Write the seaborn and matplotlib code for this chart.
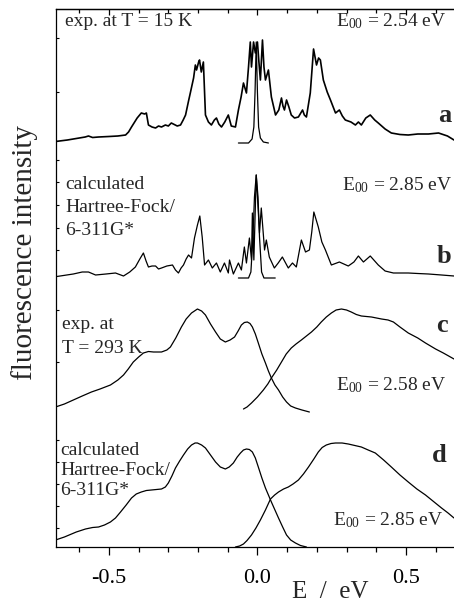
import numpy as np
import pandas as pd
import matplotlib
matplotlib.use("Agg")
import matplotlib.pyplot as plt
import seaborn as sns

# ---------------- data (E in eV, intensity in arbitrary units) ----------------
a_E = [-0.680, -0.640, -0.600, -0.580, -0.569, -0.555, -0.535, -0.500, -0.470, -0.444,
       -0.434, -0.424, -0.405, -0.391, -0.380, -0.374, -0.367, -0.355, -0.343, -0.333,
       -0.323, -0.310, -0.300, -0.290, -0.270, -0.259, -0.250, -0.242, -0.232, -0.226,
       -0.215, -0.209, -0.205, -0.198, -0.195, -0.189, -0.182, -0.175, -0.165, -0.155,
       -0.145, -0.138, -0.130, -0.121, -0.110, -0.098, -0.088, -0.074, -0.064, -0.055,
       -0.047, -0.037, -0.030, -0.024, -0.020, -0.013, -0.007, 0.000, 0.005, 0.010,
       0.017, 0.022, 0.027, 0.037, 0.047, 0.061, 0.072, 0.081, 0.086, 0.091,
       0.098, 0.106, 0.114, 0.125, 0.138, 0.152, 0.158, 0.165, 0.178, 0.189,
       0.194, 0.199, 0.206, 0.212, 0.222, 0.235, 0.246, 0.263, 0.276, 0.286,
       0.296, 0.315, 0.330, 0.340, 0.350, 0.365, 0.380, 0.395, 0.407, 0.430,
       0.451, 0.480, 0.508, 0.540, 0.576, 0.610, 0.640, 0.662]
a_I = [0.5, 2, 4, 5, 6, 4.5, 5, 5.5, 6, 7,
       10, 15, 24, 29, 28, 29, 17, 15, 14, 16,
       15, 17, 16, 19, 16, 17, 22, 27, 41, 49,
       64, 77, 72, 80, 82, 70, 80, 27, 20, 17,
       22, 24, 18, 15, 20, 27, 16, 15, 32, 45,
       59, 49, 75, 100, 75, 100, 89, 100, 80, 62,
       102, 75, 62, 72, 45, 27, 32, 44, 36, 32,
       42, 35, 27, 24, 25, 32, 27, 25, 49, 93,
       85, 77, 84, 82, 62, 50, 42, 29, 32, 26,
       22, 20, 17, 20, 17, 24, 27, 22, 19, 13,
       9, 7.5, 7, 8, 8, 9, 6, 2]
a_line_E = [-0.064, -0.030, -0.018, -0.012, -0.008, -0.004, 0.000, 0.004, 0.010, 0.020, 0.037]
a_line_I = [-1, -1, 3, 15, 50, 100, 50, 15, 4, 0, -1]

b_E = [-0.680, -0.620, -0.590, -0.569, -0.545, -0.510, -0.478, -0.451, -0.430, -0.411,
       -0.396, -0.384, -0.375, -0.367, -0.355, -0.343, -0.333, -0.323, -0.305, -0.286,
       -0.276, -0.266, -0.257, -0.249, -0.240, -0.232, -0.222, -0.212, -0.202, -0.194,
       -0.186, -0.178, -0.165, -0.152, -0.138, -0.125, -0.111, -0.098, -0.094, -0.081,
       -0.064, -0.054, -0.044, -0.037, -0.027, -0.020, -0.017, -0.012, -0.004, 0.007,
       0.013, 0.024, 0.030, 0.040, 0.057, 0.070, 0.084, 0.104, 0.118, 0.131,
       0.148, 0.162, 0.175, 0.183, 0.190, 0.205, 0.217, 0.229, 0.249, 0.276,
       0.306, 0.325, 0.340, 0.357, 0.380, 0.407, 0.430, 0.458, 0.508, 0.540,
       0.576, 0.620, 0.662]
b_I = [0.3, 3, 5, 5, 2, 3, 4, 1, 5, 10,
       18, 24, 16, 10, 11, 11, 8, 9, 11, 12,
       7, 4, 9, 12, 18, 22, 19, 39, 52, 61,
       40, 12, 17, 9, 14, 5, 14, 4, 17, 3,
       14, 7, 30, 14, 39, 17, 64, 17, 102, 44,
       69, 27, 37, 20, 9, 14, 20, 9, 14, 10,
       37, 25, 27, 45, 65, 50, 35, 27, 12, 15,
       11, 15, 21, 15, 21, 12, 6, 4, 4, 3.5,
       3, 2, 1]
b_line_E = [-0.064, -0.030, -0.022, -0.015, -0.010, -0.004, 0.002, 0.007, 0.014, 0.022, 0.060]
b_line_I = [-1, -1, 5, 40, 80, 102, 80, 40, 5, -1, -1]

c_em_E = [-0.680, -0.650, -0.620, -0.590, -0.559, -0.530, -0.495, -0.470, -0.451, -0.435,
          -0.418, -0.400, -0.384, -0.367, -0.350, -0.323, -0.305, -0.293, -0.275, -0.256,
          -0.240, -0.222, -0.202, -0.188, -0.175, -0.158, -0.141, -0.125, -0.108, -0.092,
          -0.077, -0.065, -0.054, -0.044, -0.034, -0.025, -0.017, -0.007, 0.003, 0.015,
          0.027, 0.037, 0.047, 0.059, 0.071, 0.085, 0.098, 0.112, 0.128, 0.150,
          0.175]
c_em_I = [5, 8, 12, 16, 20, 23, 27, 32, 37, 43,
          50, 55, 59, 60.5, 60, 60, 62, 65, 74, 85,
          93, 99, 103, 101, 97, 88, 80, 73, 70, 72,
          75, 81, 87, 89.5, 90, 88.5, 85, 78, 69, 58,
          49, 41, 34, 27, 22, 15, 10, 6, 4, 2,
          0]
c_ab_E = [-0.047, -0.035, -0.020, 0.000, 0.020, 0.035, 0.047, 0.065, 0.081, 0.097,
          0.114, 0.130, 0.148, 0.165, 0.182, 0.200, 0.215, 0.232, 0.249, 0.265,
          0.283, 0.300, 0.316, 0.333, 0.350, 0.384, 0.418, 0.440, 0.458, 0.480,
          0.508, 0.540, 0.566, 0.600, 0.626, 0.662]
c_ab_I = [3, 5, 9, 15, 22, 28, 34, 42, 50, 58,
          64, 68, 72, 76, 80, 85, 90, 95, 99, 102,
          103, 102, 100, 97.5, 96, 95, 93, 92, 90, 85,
          79, 74, 69, 63, 59, 53]

d_em_E = [-0.680, -0.650, -0.610, -0.579, -0.555, -0.535, -0.515, -0.495, -0.478, -0.461,
          -0.442, -0.424, -0.408, -0.391, -0.374, -0.357, -0.340, -0.323, -0.310, -0.300,
          -0.288, -0.276, -0.262, -0.249, -0.235, -0.222, -0.210, -0.202, -0.188, -0.175,
          -0.158, -0.141, -0.125, -0.108, -0.095, -0.081, -0.068, -0.057, -0.047, -0.037,
          -0.027, -0.017, -0.007, 0.003, 0.015, 0.027, 0.037, 0.047, 0.059, 0.071,
          0.085, 0.098, 0.112, 0.128, 0.145, 0.165]
d_em_I = [7, 10, 15, 18, 19.5, 20, 22, 25, 29, 35,
          42, 49, 53, 55, 56.5, 57, 57.5, 58, 60, 64,
          71, 79, 86, 92, 98, 102, 104, 104, 102, 99,
          92, 85, 80, 78, 80, 84, 90, 94, 97, 98,
          97.5, 95, 89, 80, 69, 59, 52, 45, 37, 29,
          20, 12, 7, 4, 1.5, 0]
d_ab_E = [-0.074, -0.060, -0.047, -0.035, -0.020, -0.005, 0.010, 0.027, 0.044, 0.058,
          0.071, 0.088, 0.104, 0.120, 0.138, 0.155, 0.172, 0.190, 0.205, 0.218,
          0.232, 0.248, 0.263, 0.285, 0.306, 0.328, 0.350, 0.373, 0.397, 0.425,
          0.451, 0.480, 0.508, 0.537, 0.566, 0.593, 0.620, 0.642, 0.662]
d_ab_I = [0, 1, 3, 6.5, 12, 19, 27, 37, 48, 52,
          55, 58, 60, 63, 67, 73, 80, 88, 95, 99.5,
          102, 103.5, 104, 104, 103, 101.5, 100, 97, 94, 87,
          80, 72, 65, 58, 52, 45.5, 39, 34, 29]

xtick_major = [-0.5, 0.0, 0.5]
xtick_labels = ["-0.5", "0.0", "0.5"]

# ---------------- style ----------------
sns.set_theme(style="ticks")
plt.rcParams["font.family"] = ["Liberation Serif", "DejaVu Serif"]
plt.rcParams["mathtext.fontset"] = "custom"
plt.rcParams["mathtext.rm"] = "Liberation Serif"
plt.rcParams["mathtext.it"] = "Liberation Serif:italic"
plt.rcParams["axes.axisbelow"] = False
plt.rcParams["xtick.bottom"] = True
plt.rcParams["xtick.major.size"] = 5.5
plt.rcParams["xtick.minor.size"] = 3.8
plt.rcParams["xtick.major.width"] = 0.9
plt.rcParams["xtick.minor.width"] = 0.9
plt.rcParams["xtick.color"] = "black"

W, H = 454, 602
fig = plt.figure(figsize=(W / 100, H / 100), dpi=100)
ax_left, ax_top, ax_bottom = 55.5, 9.0, 547.0
ax = fig.add_axes([ax_left / W, 1 - ax_bottom / H, 1 - ax_left / W, (ax_bottom - ax_top) / H])

# vertical offsets of the stacked spectra (layout)
offsets = {"a": 405, "b": 270, "c": 135, "d": 0}

def draw(E, I, off, lw):
    df = pd.DataFrame({"E": E, "I": np.asarray(I, dtype=float) + off})
    sns.lineplot(data=df, x="E", y="I", ax=ax, color="black", lw=lw,
                 sort=False, estimator=None)

draw(a_E, a_I, offsets["a"], 1.2)
draw(a_line_E, a_line_I, offsets["a"], 0.9)
draw(b_E, b_I, offsets["b"], 0.9)
draw(b_line_E, b_line_I, offsets["b"], 0.9)
draw(c_em_E, c_em_I, offsets["c"], 0.9)
draw(c_ab_E, c_ab_I, offsets["c"], 0.9)
draw(d_em_E, d_em_I, offsets["d"], 0.9)
draw(d_ab_E, d_ab_I, offsets["d"], 0.9)

ax.set_xlim(-0.680, 0.662)
ax.set_ylim(0, ax_bottom - ax_top)
ax.set_xlabel("")
ax.set_ylabel("")
ax.set_axisbelow(False)
ax.spines["right"].set_visible(False)
for s in ["left", "top", "bottom"]:
    ax.spines[s].set_linewidth(0.9)
    ax.spines[s].set_color("black")

minor_ticks = np.round(np.arange(-0.6, 0.65, 0.1), 2)
ax.set_xticks(xtick_major)
ax.set_xticklabels(xtick_labels)
ax.set_xticks(minor_ticks, minor=True)
ax.xaxis.set_ticks_position("bottom")
ax.tick_params(axis="x", which="major", direction="out", length=5.5, width=0.9,
               labelsize=16, pad=10, colors="black", bottom=True, top=False)
ax.tick_params(axis="x", which="minor", direction="out", length=3.8, width=0.9,
               colors="black", bottom=True, top=False)

ytick_px = [38, 92, 160, 182, 205, 228, 250, 310, 362, 440, 462, 484, 506, 528]
ax.set_yticks([ax_bottom - p for p in ytick_px])
ax.set_yticklabels([])
ax.tick_params(axis="y", which="major", direction="in", length=2, width=0.8,
               right=False, colors="black")

# top axis: inward ticks, no labels
sec = ax.secondary_xaxis("top")
sec.set_xticks(xtick_major)
sec.set_xticks(minor_ticks, minor=True)
sec.tick_params(axis="x", which="major", direction="in", length=4.5, width=0.9,
                labeltop=False, colors="black", top=True)
sec.tick_params(axis="x", which="minor", direction="in", length=3.2, width=0.9,
                colors="black", top=True)
sec.spines["top"].set_linewidth(0.9)
sec.spines["top"].set_color("black")

# ---------------- text ----------------
def ftext(x, y, s, **kw):
    fig.text(x / W, 1 - y / H, s, **kw)

def lines(x, y0, dy, strs, **kw):
    for i, s in enumerate(strs):
        ftext(x, y0 + i * dy, s, va="baseline", ha="left", **kw)

fs = 14
lines(65, 26, 23, ["exp. at T = 15 K"], fontsize=fs)
ftext(446, 26, "E$_{00}$ = 2.54 eV", ha="right", va="baseline", fontsize=fs)
ftext(451, 122, "a", ha="right", va="baseline", fontsize=19, fontweight="bold")

lines(65, 189, 23, ["calculated", "Hartree-Fock/", "6-311G*"], fontsize=fs)
ftext(452, 190, "E$_{00}$ = 2.85 eV", ha="right", va="baseline", fontsize=fs)
ftext(451, 263, "b", ha="right", va="baseline", fontsize=19, fontweight="bold")

lines(62, 329, 24, ["exp. at", "T = 293 K"], fontsize=fs)
ftext(446, 390, "E$_{00}$ = 2.58 eV", ha="right", va="baseline", fontsize=fs)
ftext(448, 332, "c", ha="right", va="baseline", fontsize=19, fontweight="bold")

lines(60, 455, 20, ["calculated", "Hartree-Fock/", "6-311G*"], fontsize=fs)
ftext(443, 525, "E$_{00}$ = 2.85 eV", ha="right", va="baseline", fontsize=fs)
ftext(447, 462, "d", ha="right", va="baseline", fontsize=19, fontweight="bold")

ftext(25, 253, "fluorescence intensity", rotation=90, ha="center", va="center", fontsize=21)
ftext(330, 598, "E  /  eV", ha="center", va="baseline", fontsize=18)

fig.savefig("out.png", dpi=100)
